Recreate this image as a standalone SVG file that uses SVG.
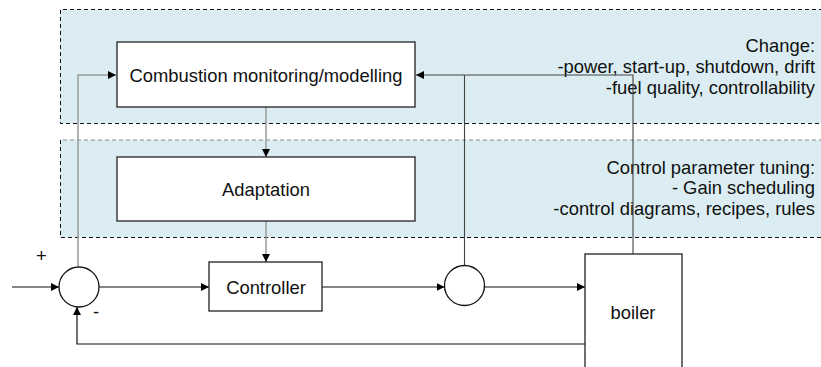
<svg xmlns="http://www.w3.org/2000/svg" width="821" height="367" viewBox="0 0 821 367">
<defs>
<marker id="ah" viewBox="0 0 10 10" refX="10" refY="5" markerWidth="8" markerHeight="8" markerUnits="userSpaceOnUse" orient="auto">
<path d="M0,0 L10,5 L0,10 z" fill="#000"/>
</marker>
<style>
text{font-family:"Liberation Sans",Arial,sans-serif;font-size:18.4px;fill:#111}
.box{fill:#fff;stroke:#222;stroke-width:1.3}
.panel{fill:#dbedf2;stroke:none}
.dash{stroke:#111;stroke-width:1;stroke-dasharray:4,3;fill:none}
.dashg{stroke:#888;stroke-width:1;stroke-dasharray:4,3;fill:none}
.ln{fill:none;stroke:#111;stroke-width:1.2}
.gl{fill:none;stroke:#9a9a9a;stroke-width:1.5}
.dl{fill:none;stroke:#444;stroke-width:1.1}
.r{text-anchor:end}
.m{text-anchor:middle}
</style>
</defs>
<rect width="821" height="367" fill="#fff"/>
<g id="panel-change">
<rect class="panel" x="60" y="9.5" width="770" height="114"/>
<path class="dash" d="M830,9.5 H60.5 V123.5 H830"/>
<text class="r" x="815" y="52">Change:</text>
<text class="r" x="815" y="73">-power, start-up, shutdown, drift</text>
<text class="r" x="815" y="94">-fuel quality, controllability</text>
</g>
<g id="panel-tuning">
<rect class="panel" x="60" y="140" width="770" height="97.5"/>
<path class="dashg" d="M830,140 H60.5"/>
<path class="dash" d="M60.5,140 V237.5 H830"/>
<text class="r" x="815" y="173.5">Control parameter tuning:</text>
<text class="r" x="815" y="194">- Gain scheduling</text>
<text class="r" x="815" y="214.5">-control diagrams, recipes, rules</text>
</g>
<g id="connectors">
<path class="gl" d="M78,266 V75 H116" marker-end="url(#ah)"/>
<path class="gl" d="M266,107 V157" marker-end="url(#ah)"/>
<path class="gl" d="M266,221 V262" marker-end="url(#ah)"/>
<path class="ln" d="M12,287 H59" marker-end="url(#ah)"/>
<path class="ln" d="M99,287 H209" marker-end="url(#ah)"/>
<path class="ln" d="M322,287 H444.5" marker-end="url(#ah)"/>
<path class="ln" d="M484.5,287 H585" marker-end="url(#ah)"/>
<path class="ln" d="M585,344 H77 V307" marker-end="url(#ah)"/>
<path class="dl" d="M464.5,265.5 V75"/>
<path class="dl" d="M633,254 V75 H416" marker-end="url(#ah)"/>
</g>
<g id="combustion">
<rect class="box" x="117" y="42" width="298" height="65"/>
<text class="m" x="266" y="82">Combustion monitoring/modelling</text>
</g>
<g id="adaptation">
<rect class="box" x="117" y="157" width="298" height="64"/>
<text class="m" x="266" y="196">Adaptation</text>
</g>
<g id="sum1">
<circle cx="79" cy="287" r="20" fill="#fff" stroke="#111" stroke-width="1.3"/>
<text x="36" y="262">+</text>
<text x="93" y="318">-</text>
</g>
<g id="controller">
<rect class="box" x="209" y="262" width="113" height="49"/>
<text class="m" x="266" y="293.5">Controller</text>
</g>
<g id="sum2">
<circle cx="464.5" cy="285.5" r="20" fill="#fff" stroke="#111" stroke-width="1.3"/>
</g>
<g id="boiler">
<rect class="box" x="585" y="254" width="97" height="130"/>
<text class="m" x="633" y="318.5">boiler</text>
</g>
</svg>
